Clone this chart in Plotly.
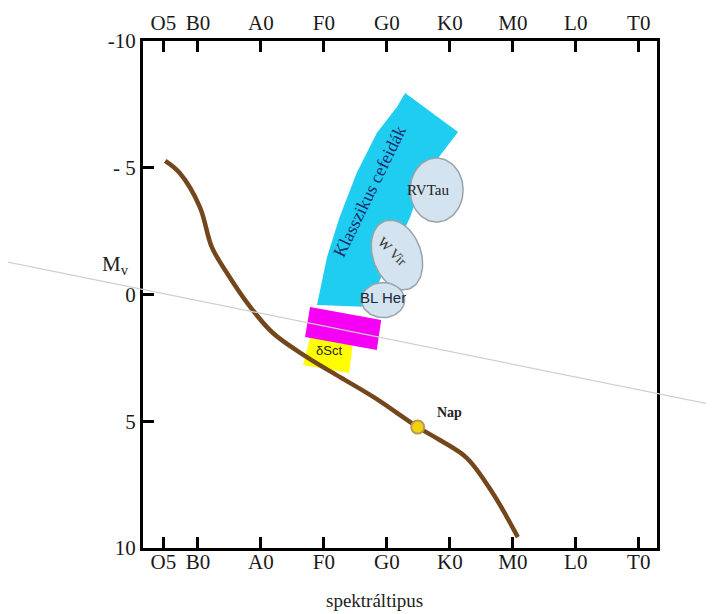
import numpy as np
import plotly.graph_objects as go

# ---- data ----
spec_labels = ["O5", "B0", "A0", "F0", "G0", "K0", "M0", "L0", "T0"]
spec_pos = [0.45, 1, 2, 3, 4, 5, 6, 7, 8]
mag_ticks = [-10, -5, 0, 5, 10]
mag_ticktext = ["-10", "- 5", "0", "5", "10"]

# main sequence curve
ms_x = [0.48, 0.71, 1.03, 1.22, 1.46, 1.83, 2.19, 2.73, 3.25, 3.81, 4.49, 4.84, 5.27, 5.68, 6.08]
ms_y = [-5.27, -4.79, -3.45, -1.87, -0.85, 0.49, 1.52, 2.47, 3.25, 4.08, 5.23, 5.74, 6.45, 7.83, 9.57]

# classical cepheid strip (left edge bottom->top, then right edge top->bottom)
ceph_x = [2.89, 3.05, 3.25, 3.52, 3.84, 4.16, 4.29, 5.13, 4.79, 4.52, 4.37, 4.13, 3.89, 3.73]
ceph_y = [0.41, -1.48, -3.06, -4.79, -6.37, -7.40, -7.95, -6.41, -5.31, -4.12, -3.06, -1.76, -0.57, 0.49]

# magenta box and delta Scuti box
rr_x = [2.78, 3.91, 3.84, 2.70]
rr_y = [0.49, 1.01, 2.19, 1.68]
dsct_x = [2.78, 3.46, 3.40, 2.67]
dsct_y = [1.72, 1.91, 3.10, 2.78]

# ellipses: centre x, centre y, half-width (px), half-height (px), tilt (deg)
ell_names = ["RVTau", "W Vir", "BL Her"]
ell_cx = [4.79, 4.16, 3.94]
ell_cy = [-4.12, -1.56, 0.22]
ell_a = [26.5, 24, 21.5]
ell_b = [32, 36, 17.5]
ell_tilt = [0, 20, 0]

sun_x = [4.49]
sun_y = [5.23]

# ---- layout geometry (page has an 8px body margin) ----
W, H = 706, 606
ML, MR, MT, MB = 135, 57, 33, 66
XR = [0.127, 8.29]
YR = [10, -10]
pw, ph = W - ML - MR, H - MT - MB
sx = pw / (XR[1] - XR[0])
sy = ph / (YR[0] - YR[1])

fig = go.Figure()

fig.add_trace(go.Scatter(x=ceph_x + [ceph_x[0]], y=ceph_y + [ceph_y[0]], fill="toself",
                         fillcolor="#1ecdf0", line=dict(width=0), mode="lines",
                         hoverinfo="skip", showlegend=False))

t = np.linspace(0, 2 * np.pi, 80)
for cx, cy, a, b, tl in zip(ell_cx, ell_cy, ell_a, ell_b, ell_tilt):
    th = np.radians(tl)
    px = a * np.cos(t)
    py = b * np.sin(t)
    rx = px * np.cos(th) + py * np.sin(th)
    ry = -px * np.sin(th) + py * np.cos(th)
    fig.add_trace(go.Scatter(x=cx + rx / sx, y=cy + ry / sy, fill="toself",
                             fillcolor="#d3e3ef", line=dict(color="#9aa3aa", width=1.5),
                             mode="lines", hoverinfo="skip", showlegend=False))

fig.add_trace(go.Scatter(x=dsct_x + [dsct_x[0]], y=dsct_y + [dsct_y[0]], fill="toself",
                         fillcolor="#ffff00", line=dict(width=0), mode="lines",
                         hoverinfo="skip", showlegend=False))
fig.add_trace(go.Scatter(x=rr_x + [rr_x[0]], y=rr_y + [rr_y[0]], fill="toself",
                         fillcolor="#f500f5", line=dict(width=0), mode="lines",
                         hoverinfo="skip", showlegend=False))

fig.add_trace(go.Scatter(x=ms_x, y=ms_y, mode="lines", line=dict(color="#74461c", width=4.5, shape="spline"),
                         hoverinfo="skip", showlegend=False))
fig.add_trace(go.Scatter(x=sun_x, y=sun_y, mode="markers",
                         marker=dict(size=13, color="#f2d40c", line=dict(color="#b89a55", width=2)),
                         hoverinfo="skip", showlegend=False))

# invisible trace for top axis
fig.add_trace(go.Scatter(x=[XR[0]], y=[0], xaxis="x2", mode="markers",
                         marker=dict(opacity=0), hoverinfo="skip", showlegend=False))

serif = "Liberation Serif, Times New Roman, serif"
axis_common = dict(range=XR, tickvals=spec_pos, ticktext=spec_labels, ticks="inside", ticklen=11,
                   tickwidth=2.5, tickcolor="black", showline=True, linewidth=3, linecolor="black",
                   showgrid=False, zeroline=False, automargin=False,
                   tickfont=dict(family=serif, size=21, color="#1a1a1a"))

fig.update_layout(
    width=W, height=H, margin=dict(l=ML, r=MR, t=MT, b=MB, autoexpand=False),
    paper_bgcolor="white", plot_bgcolor="white",
    xaxis=dict(**axis_common, mirror=True, ticklabelstandoff=-7),
    xaxis2=dict(**axis_common, overlaying="x", side="top"),
    yaxis=dict(range=YR, tickvals=mag_ticks, ticktext=mag_ticktext, ticks="inside", ticklen=11,
               tickwidth=2.5, tickcolor="black", showline=True, linewidth=3, linecolor="black",
               mirror=True, showgrid=False, zeroline=False, automargin=False,
               tickfont=dict(family=serif, size=21, color="#1a1a1a")),
)

ann = [
    dict(x=3.72, y=-4.05, text="Klasszikus cefeidák", textangle=-64,
         font=dict(family=serif, size=18, color="#1c2a6e")),
    dict(x=4.65, y=-4.12, text="RVTau", font=dict(family=serif, size=15, color="#222")),
    dict(x=4.08, y=-1.68, text="W Vir", textangle=45, font=dict(family=serif, size=14, color="#333")),
    dict(x=3.94, y=0.10, text="BL Her", font=dict(family="Liberation Sans, Arial", size=15, color="#1a2a3a")),
    dict(x=3.08, y=2.19, text="δSct", font=dict(family="Liberation Sans, Arial", size=13, color="#222")),
    dict(x=5.0, y=4.67, text="<b>Nap</b>", font=dict(family=serif, size=14, color="#222")),
]
for a in ann:
    fig.add_annotation(xref="x", yref="y", showarrow=False, **a)

fig.add_annotation(xref="paper", yref="paper", x=0.451, y=-0.103, text="spektráltipus", showarrow=False,
                   font=dict(family=serif, size=19, color="#222"), yanchor="middle")
fig.add_annotation(xref="paper", yref="paper", x=-0.084, y=0.558, text="M<sub>v</sub>", showarrow=False,
                   font=dict(family=serif, size=21, color="#222"))

# faint diagonal scan line
fig.add_shape(type="line", xref="paper", yref="paper", x0=-0.263, y0=0.564, x1=1.111, y1=0.282,
              line=dict(color="#cfcfcf", width=1.2), layer="above")

fig.write_html("out.html")
